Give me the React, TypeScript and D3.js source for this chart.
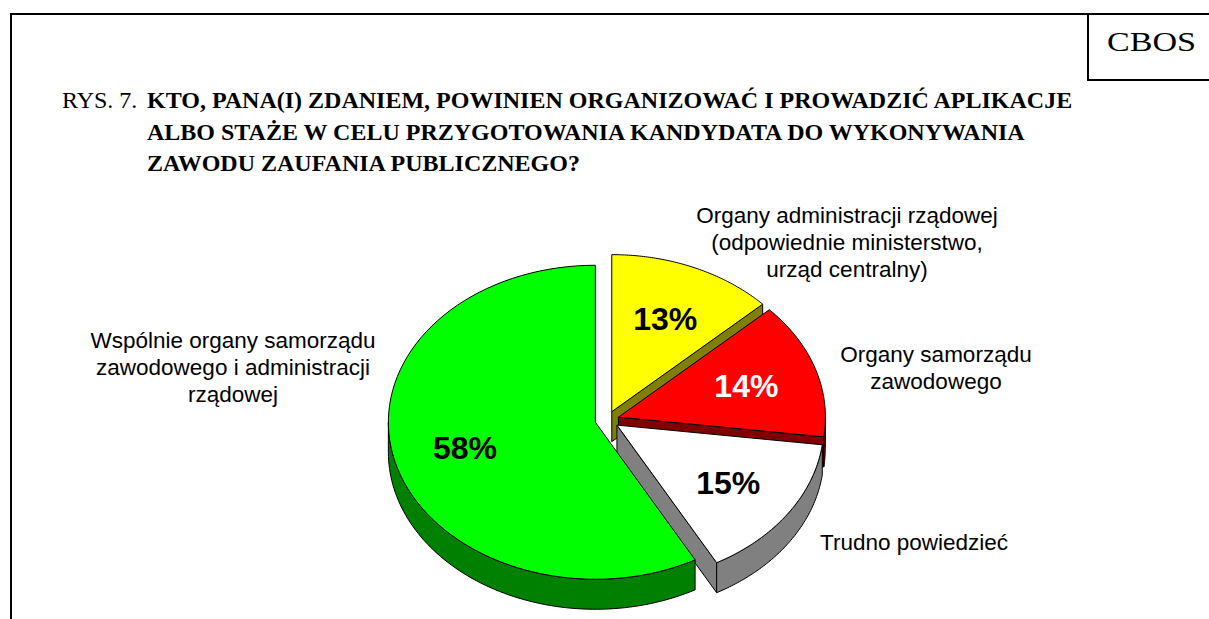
import * as d3 from "d3";
import { useEffect, useRef } from "react";

// data
const categories = [
  "Organy administracji rządowej (odpowiednie ministerstwo, urząd centralny)",
  "Organy samorządu zawodowego",
  "Trudno powiedzieć",
  "Wspólnie organy samorządu zawodowego i administracji rządowej",
];
const values = [13, 14, 15, 58];
const labelLines = [
  ["Organy administracji rządowej", "(odpowiednie ministerstwo,", "urząd centralny)"],
  ["Organy samorządu", "zawodowego"],
  ["Trudno powiedzieć"],
  ["Wspólnie organy samorządu", "zawodowego i administracji", "rządowej"],
];
const titleLines = [
  "KTO, PANA(I) ZDANIEM, POWINIEN ORGANIZOWAĆ I PROWADZIĆ APLIKACJE",
  "ALBO STAŻE W CELU PRZYGOTOWANIA KANDYDATA DO WYKONYWANIA",
  "ZAWODU ZAUFANIA PUBLICZNEGO?",
];

const topColors = ["#FFFF00", "#FF0000", "#FFFFFF", "#00FF00"];
const sideColors = ["#808000", "#800000", "#808080", "#008000"];
const pctColors = ["#000", "#fff", "#000", "#000"];

// layout
const W = 1209;
const H = 619;
const cx = 607;
const cy = 420;
const rx = 207;
const ry = 157;
const depth = 30;
const explode = 0.058;
const labelAnchors = [
  { x: 847, y: 223 },
  { x: 936, y: 362 },
  { x: 914, y: 550 },
  { x: 233, y: 348 },
];

export default function App() {
  const svgRef = useRef<SVGSVGElement>(null);

  useEffect(() => {
    const svg = d3.select(svgRef.current);
    svg.selectAll("*").remove();

    // frame
    svg.append("line").attr("x1", 11).attr("y1", 14).attr("x2", W).attr("y2", 14)
      .attr("stroke", "#000").attr("stroke-width", 2);
    svg.append("line").attr("x1", 11).attr("y1", 13).attr("x2", 11).attr("y2", H)
      .attr("stroke", "#000").attr("stroke-width", 2);
    svg.append("path").attr("d", `M1088,14 V80 H${W}`)
      .attr("fill", "none").attr("stroke", "#000").attr("stroke-width", 2);
    svg.append("text").attr("x", 1107).attr("y", 51)
      .attr("textLength", 89).attr("lengthAdjust", "spacingAndGlyphs")
      .style("font-family", "'Liberation Serif', 'Times New Roman', serif")
      .style("font-size", "28px").text("CBOS");

    // title
    const title = svg.append("g")
      .style("font-family", "'Liberation Serif', 'Times New Roman', serif")
      .style("font-size", "24px");
    title.append("text").attr("x", 62).attr("y", 108).text("RYS. 7.");
    titleLines.forEach((t, i) => {
      title.append("text").attr("x", 147).attr("y", 108 + i * 31.5)
        .style("font-weight", "bold").text(t);
    });

    // pie
    const arcs = d3.pie<number>().sort(null).startAngle(0).endAngle(2 * Math.PI)(values);

    const geo = arcs.map((a) => {
      const mid = (a.startAngle + a.endAngle) / 2;
      const vx = cx + explode * rx * Math.sin(mid);
      const vy = cy - explode * ry * Math.cos(mid);
      return { a, mid, vx, vy };
    });

    const rim = (g, t: number, z: number): [number, number] => [
      g.vx + rx * Math.sin(t),
      g.vy - ry * Math.cos(t) + z,
    ];
    const sample = (t0: number, t1: number) =>
      d3.range(0, 81).map((k) => t0 + ((t1 - t0) * k) / 80);
    const line = d3.line();

    const faces = svg.append("g").attr("stroke", "#000").attr("stroke-width", 1)
      .attr("stroke-linejoin", "round");

    // radial cut faces that look towards the viewer
    geo.forEach((g, i) => {
      const a1 = g.a.endAngle;
      if (Math.sin(a1) > 1e-6) {
        const p = [
          [g.vx, g.vy],
          rim(g, a1, 0),
          rim(g, a1, depth),
          [g.vx, g.vy + depth],
        ] as [number, number][];
        faces.append("path").attr("d", line(p) + "Z").attr("fill", sideColors[i]);
      }
      const a0 = g.a.startAngle;
      if (Math.sin(a0) < -1e-6) {
        const p = [
          [g.vx, g.vy],
          rim(g, a0, 0),
          rim(g, a0, depth),
          [g.vx, g.vy + depth],
        ] as [number, number][];
        faces.append("path").attr("d", line(p) + "Z").attr("fill", sideColors[i]);
      }
    });

    // outer walls, front half only
    geo.forEach((g, i) => {
      const s = Math.max(g.a.startAngle, Math.PI / 2);
      const e = Math.min(g.a.endAngle, (3 * Math.PI) / 2);
      if (e <= s) return;
      const top = sample(s, e).map((t) => rim(g, t, 0));
      const bottom = sample(e, s).map((t) => rim(g, t, depth));
      faces.append("path").attr("d", line([...top, ...bottom]) + "Z")
        .attr("fill", sideColors[i]);
    });

    // top faces
    geo.forEach((g, i) => {
      const pts = [[g.vx, g.vy] as [number, number],
        ...sample(g.a.startAngle, g.a.endAngle).map((t) => rim(g, t, 0))];
      faces.append("path").attr("d", line(pts) + "Z").attr("fill", topColors[i])
        .append("title").text(categories[i]);
    });

    // percentages
    svg.append("g")
      .style("font-family", "'Liberation Sans', Arial, sans-serif")
      .style("font-size", "32px").style("font-weight", "bold")
      .attr("text-anchor", "middle")
      .selectAll("text").data(geo).join("text")
      .attr("x", (g) => g.vx + 0.65 * rx * Math.sin(g.mid))
      .attr("y", (g) => g.vy - 0.65 * ry * Math.cos(g.mid))
      .attr("dy", "0.36em")
      .attr("fill", (g, i) => pctColors[i])
      .text((g) => `${g.a.data}%`);

    // category labels
    const lab = svg.append("g")
      .style("font-family", "'Liberation Sans', Arial, sans-serif")
      .style("font-size", "22.5px").attr("text-anchor", "middle");
    labelLines.forEach((ls, i) => {
      ls.forEach((t, j) => {
        lab.append("text").attr("x", labelAnchors[i].x)
          .attr("y", labelAnchors[i].y + j * 27).text(t);
      });
    });
  }, []);

  return (
    <svg
      ref={svgRef}
      width={W}
      height={H}
      style={{ position: "absolute", left: 0, top: 0, background: "#fff" }}
    />
  );
}
